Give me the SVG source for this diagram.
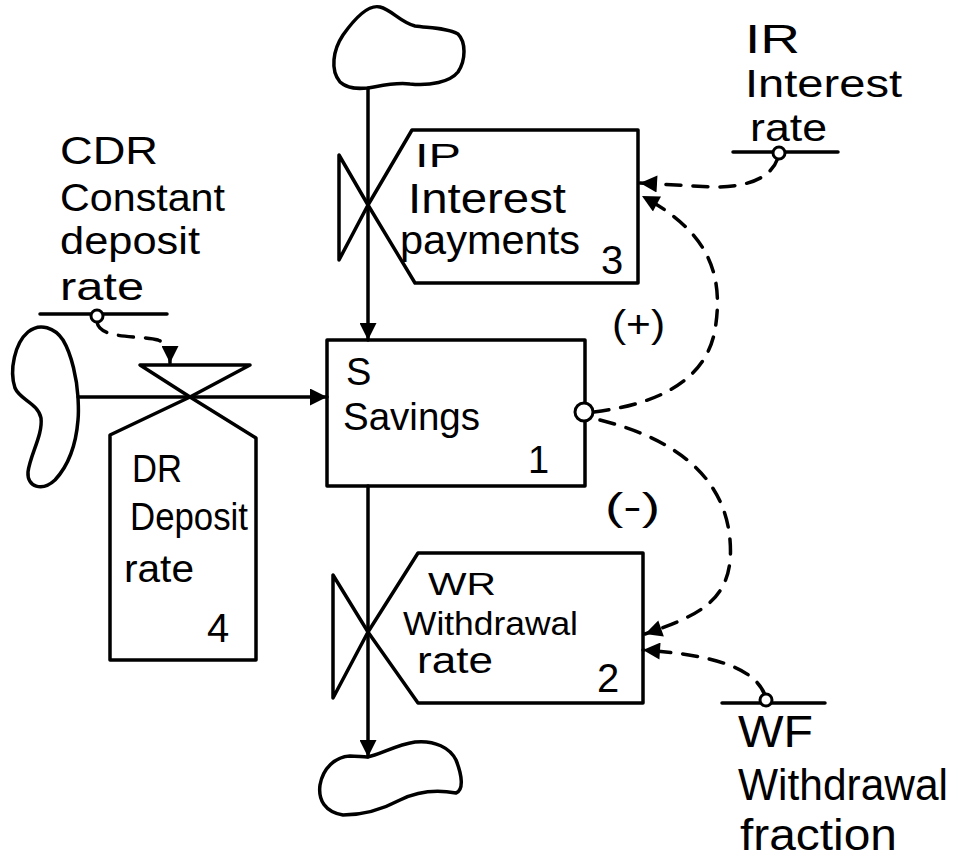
<svg xmlns="http://www.w3.org/2000/svg" width="956" height="859" viewBox="0 0 956 859">
<style>
.ln{fill:none;stroke:#000;stroke-width:3.5;stroke-linejoin:round;stroke-linecap:round}
.sh{fill:#fff;stroke:#000;stroke-width:3;stroke-linejoin:round}
.dash{fill:none;stroke:#000;stroke-width:3.5;stroke-dasharray:15 12;stroke-linecap:round}
.t{font-family:"Liberation Sans",Arial,sans-serif;font-size:38px;fill:#000}
</style>
<defs>
<marker id="ah" viewBox="0 0 10 10" refX="10" refY="5" markerUnits="userSpaceOnUse" markerWidth="22" markerHeight="17" orient="auto">
<path d="M0,0 L10,5 L0,10 Z" fill="#000"/>
</marker>
</defs>
<rect width="956" height="859" fill="#fff"/>

<g id="connectors">
<path class="ln" d="M368,88 L368,340" marker-end="url(#ah)"/>
<path class="ln" d="M78,397 L327,397" marker-end="url(#ah)"/>
<path class="ln" d="M368,486 L368,757" marker-end="url(#ah)"/>
<path class="dash" d="M97,322 C100,340 140,335 158,340 C170,345 170,350 170,363" marker-end="url(#ah)"/>
<path class="dash" d="M778,158 C770,180 745,187 713,187 L640,183" marker-end="url(#ah)"/>
<path class="dash" d="M594,412 C650,405 705,385 715,330 C725,270 705,230 642,196" marker-end="url(#ah)"/>
<path class="dash" d="M600,420 C680,440 725,480 730,540 C735,600 700,615 645,634" marker-end="url(#ah)"/>
<path class="dash" d="M765,695 C755,670 720,655 643,650" marker-end="url(#ah)"/>
<text class="t" x="612" y="337" textLength="53" lengthAdjust="spacingAndGlyphs">(+)</text>
<text class="t" x="605" y="520" textLength="55" lengthAdjust="spacingAndGlyphs">(-)</text>
</g>

<g id="cloud-top">
<path class="ln" d="M368,88 C380,86 395,82 410,84 C430,86 450,82 458,72 C466,60 466,42 458,34 C448,28 430,28 415,26 C400,22 392,10 380,7 C368,4 355,18 343,35 C333,50 330,70 340,82 C348,89 358,89 368,88 Z"/>
</g>
<g id="cloud-left">
<path class="ln" d="M78,397 C77,380 72,355 63,340 C55,328 40,322 28,332 C15,343 9,370 15,388 C20,400 38,403 41,418 C43,435 30,455 28,472 C27,487 42,492 55,480 C68,466 76,445 78,420 C79,410 78,400 78,397 Z"/>
</g>
<g id="cloud-bottom">
<path class="ln" d="M367,757 C380,755 395,745 415,742 C435,740 450,748 456,760 C462,775 464,790 456,793 C440,790 420,790 400,800 C385,808 365,815 343,815 C325,812 318,800 320,785 C323,768 335,757 350,756 C357,756 362,757 367,757 Z"/>
</g>

<g id="IP">
<polygon class="ln" points="339,155 339,260 368,205"/>
<polygon class="ln" points="368,205 412,130 638,130 638,283 415,283"/>
<text class="t" x="415" y="167" style="font-size:34px" textLength="46" lengthAdjust="spacingAndGlyphs">IP</text>
<text class="t" x="408" y="213" style="font-size:42px" textLength="158" lengthAdjust="spacingAndGlyphs">Interest</text>
<text class="t" x="400" y="254" style="font-size:40px" textLength="180" lengthAdjust="spacingAndGlyphs">payments</text>
<text class="t" x="601" y="274" style="font-size:40px">3</text>
</g>

<g id="S">
<rect class="ln" x="327" y="340" width="258" height="146"/>
<circle class="sh" cx="584" cy="412" r="9"/>
<text class="t" x="346" y="385">S</text>
<text class="t" x="343" y="430" textLength="137" lengthAdjust="spacingAndGlyphs">Savings</text>
<text class="t" x="528" y="473">1</text>
</g>

<g id="WR">
<polygon class="ln" points="333,575 333,698 368,632"/>
<polygon class="ln" points="368,632 418,553 643,553 643,703 418,703"/>
<text class="t" x="428" y="595" style="font-size:32px" textLength="68" lengthAdjust="spacingAndGlyphs">WR</text>
<text class="t" x="403" y="635" style="font-size:34px" textLength="175" lengthAdjust="spacingAndGlyphs">Withdrawal</text>
<text class="t" x="417" y="673" style="font-size:36px" textLength="76" lengthAdjust="spacingAndGlyphs">rate</text>
<text class="t" x="597" y="692" style="font-size:40px">2</text>
</g>

<g id="DR">
<polygon class="ln" points="140,365 250,365 190,397"/>
<polygon class="ln" points="190,397 256,438 256,660 110,660 110,435"/>
<text class="t" x="132" y="482" textLength="50" lengthAdjust="spacingAndGlyphs">DR</text>
<text class="t" x="130" y="530" textLength="118" lengthAdjust="spacingAndGlyphs">Deposit</text>
<text class="t" x="124" y="582" textLength="70" lengthAdjust="spacingAndGlyphs">rate</text>
<text class="t" x="207" y="642" style="font-size:40px">4</text>
</g>

<g id="CDR">
<line class="ln" x1="40" y1="314" x2="167" y2="314"/>
<circle class="sh" cx="97" cy="316" r="6"/>
<text class="t" x="60" y="164" textLength="98" lengthAdjust="spacingAndGlyphs">CDR</text>
<text class="t" x="60" y="211" textLength="165" lengthAdjust="spacingAndGlyphs">Constant</text>
<text class="t" x="60" y="254" textLength="140" lengthAdjust="spacingAndGlyphs">deposit</text>
<text class="t" x="60" y="300" textLength="84" lengthAdjust="spacingAndGlyphs">rate</text>
</g>

<g id="IR">
<line class="ln" x1="733" y1="152" x2="838" y2="152"/>
<circle class="sh" cx="779" cy="153" r="6"/>
<text class="t" x="745" y="53" style="font-size:40px" textLength="55" lengthAdjust="spacingAndGlyphs">IR</text>
<text class="t" x="745" y="97" style="font-size:38px" textLength="157" lengthAdjust="spacingAndGlyphs">Interest</text>
<text class="t" x="750" y="141" style="font-size:38px" textLength="77" lengthAdjust="spacingAndGlyphs">rate</text>
</g>

<g id="WF">
<line class="ln" x1="722" y1="703" x2="825" y2="703"/>
<circle class="sh" cx="766" cy="700" r="6"/>
<text class="t" x="738" y="747" style="font-size:44px" textLength="75" lengthAdjust="spacingAndGlyphs">WF</text>
<text class="t" x="738" y="800" style="font-size:44px" textLength="210" lengthAdjust="spacingAndGlyphs">Withdrawal</text>
<text class="t" x="740" y="850" style="font-size:44px" textLength="157" lengthAdjust="spacingAndGlyphs">fraction</text>
</g>
</svg>
